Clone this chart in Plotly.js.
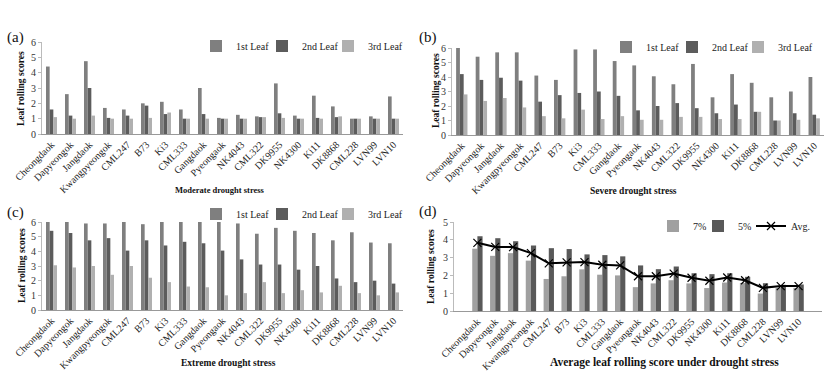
<!DOCTYPE html>
<html><head><meta charset="utf-8">
<script src="https://cdn.plot.ly/plotly-3.0.1.min.js"></script>
<style>html,body{margin:0;padding:0;background:#fff}#chart{width:838px;height:383px}</style>
</head><body><div id="chart"></div>
<script>
const categories = ["Cheongdaok","Dapyeongok","Jangdaok","Kwangpyeongok","CML247","B73","Ki3","CML333","Gangdaok","Pyeongaok","NK4043","CML322","DK9955","NK4300","Ki11","DK8868","CML228","LVN99","LVN10"];

// (a) Moderate drought stress
const modLeaf1 = [4.4,2.6,4.75,1.7,1.6,2.0,2.1,1.6,3.0,1.05,1.25,1.15,3.3,1.2,2.5,1.8,1.0,1.15,2.45];
const modLeaf2 = [1.6,1.2,3.0,1.05,1.2,1.85,1.3,1.0,1.3,1.0,1.0,1.1,1.35,1.0,1.05,1.1,1.0,1.0,1.0];
const modLeaf3 = [1.1,1.0,1.2,1.0,1.0,1.05,1.4,1.0,1.0,1.0,1.0,1.1,1.05,1.0,1.0,1.15,1.0,1.0,1.0];

// (b) Severe drought stress
const sevLeaf1 = [6.0,5.4,5.7,5.7,4.1,3.8,5.9,5.9,5.1,4.8,4.05,3.5,4.9,2.6,4.2,3.6,2.6,3.0,4.0];
const sevLeaf2 = [4.2,3.8,3.95,3.75,2.3,2.75,2.9,3.0,2.7,1.7,2.0,2.2,1.85,1.5,2.1,1.6,1.0,1.5,1.4];
const sevLeaf3 = [2.8,2.35,2.55,1.9,1.3,1.15,1.75,1.1,1.3,1.05,1.05,1.25,1.25,1.1,1.1,1.6,1.0,1.05,1.15];

// (c) Extreme drought stress
const extLeaf1 = [6.0,6.0,5.9,5.9,6.0,5.85,6.0,6.0,6.0,6.0,5.9,5.2,5.6,5.4,5.25,4.75,5.3,4.6,4.55];
const extLeaf2 = [5.4,5.25,4.75,4.9,4.05,4.75,4.4,4.65,4.55,4.05,3.45,3.1,3.1,2.75,3.0,2.15,1.9,2.0,1.8];
const extLeaf3 = [3.05,2.9,3.0,2.4,3.0,2.2,1.9,1.6,1.55,1.0,1.15,1.9,1.15,1.35,1.2,1.65,1.15,1.0,1.2];

// (d) Average leaf rolling score under drought stress
const avg7 = [3.5,3.1,3.25,2.83,1.8,1.95,2.34,2.04,2.0,1.34,1.55,1.73,1.55,1.29,1.6,1.57,0.98,1.3,1.3];
const avg5 = [4.2,4.09,3.92,3.68,3.53,3.48,3.18,3.14,3.07,2.56,2.35,2.5,2.12,2.07,2.12,1.92,1.56,1.47,1.49];
const avgAll = [3.83,3.6,3.59,3.25,2.68,2.73,2.75,2.6,2.56,1.95,1.95,2.1,1.87,1.7,1.88,1.73,1.3,1.4,1.4];

const leafNames = ["1st Leaf","2nd Leaf","3rd Leaf"];
const avgNames = ["7%","5%","Avg."];
const panelTitles = ["Moderate drought stress","Severe drought stress","Extreme drought stress","Average leaf rolling score under drought stress"];
const yTitle = "Leaf rolling scores";
const leafColors = ["#7f7f7f","#5c5c5c","#b0b0b0"];
const serif = "Liberation Serif, Times New Roman, serif";

const W = 838, H = 383;
const px = v => v / W, py = v => 1 - v / H;
const legId = n => n === 1 ? "legend" : "legend" + n;

const traces = [];
const leafSets = [[modLeaf1,modLeaf2,modLeaf3],[sevLeaf1,sevLeaf2,sevLeaf3],[extLeaf1,extLeaf2,extLeaf3]];
leafSets.forEach((set, p) => {
  set.forEach((vals, i) => {
    traces.push({type:"bar", x:categories, y:vals, name:leafNames[i],
      marker:{color:leafColors[i]}, xaxis: p===0?"x":"x"+(p+1), yaxis: p===0?"y":"y"+(p+1),
      legend: legId(p*3 + i + 1)});
  });
});
traces.push({type:"bar", x:categories, y:avg7, name:avgNames[0], marker:{color:"#a0a0a0"}, xaxis:"x4", yaxis:"y4", legend:legId(10)});
traces.push({type:"bar", x:categories, y:avg5, name:avgNames[1], marker:{color:"#595959"}, xaxis:"x4", yaxis:"y4", legend:legId(11)});
traces.push({type:"scatter", mode:"lines+markers", x:categories, y:avgAll, name:avgNames[2],
  line:{color:"#000", width:2}, marker:{symbol:"x-thin", size:8, color:"#000", line:{color:"#000", width:1.2}},
  xaxis:"x4", yaxis:"y4", legend:legId(12)});

function xa(dom, anchor){
  return {domain:dom, anchor:anchor, type:"category", tickangle:-45, showgrid:false, zeroline:false,
    showline:true, linecolor:"#999", linewidth:1, ticks:"", tickfont:{family:serif, size:10, color:"#222"},
    fixedrange:true};
}
function ya(dom, anchor, max){
  return {domain:dom, anchor:anchor, range:[0,max], dtick:1, showgrid:false, zeroline:false,
    showline:true, linecolor:"#bbb", linewidth:1, ticks:"outside", ticklen:3, tickcolor:"#bbb",
    tickfont:{family:serif, size:10, color:"#333"}, fixedrange:true};
}

// legend entry left positions (px) and centre y (px) per panel
const legendSpots = [
  [[196,46],[262,46],[328,46]],
  [[606,47],[672,47],[738,47]],
  [[196,214],[262,214],[328,214]],
  [[653,226],[698,226],[751,226]]
];
const layout = {
  width:W, height:H, margin:{l:0,r:0,t:0,b:0}, paper_bgcolor:"#fff", plot_bgcolor:"#fff",
  bargap:0.42, bargroupgap:0, barmode:"group", showlegend:true, hovermode:false,
  xaxis: xa([px(42), px(403)], "y"),
  yaxis: ya([py(134), py(42)], "x", 6),
  xaxis2: xa([px(452), px(824)], "y2"),
  yaxis2: ya([py(135), py(48)], "x2", 6),
  xaxis3: xa([px(42), px(403)], "y3"),
  yaxis3: ya([py(310), py(222)], "x3", 6),
  xaxis4: xa([px(454), px(822)], "y4"),
  yaxis4: ya([py(311), py(222)], "x4", 5)
};
legendSpots.flat().forEach((s, k) => {
  layout[legId(k+1)] = {orientation:"h", x:px(s[0]), xanchor:"left", y:py(s[1]), yanchor:"middle",
    bgcolor:"rgba(0,0,0,0)", borderwidth:0, font:{family:serif, size:10, color:"#222"}, itemwidth:30};
});

const panelLabels = [["(a)",15,37],["(b)",428,37],["(c)",15,212],["(d)",428,211]].map(a => ({
  text:a[0], x:px(a[1]), y:py(a[2]), xref:"paper", yref:"paper", showarrow:false, xanchor:"center", yanchor:"middle",
  font:{family:serif, size:15, color:"#111"}}));

const titleSpecs = [[220,190,8.5],[633,191,9.5],[228,363,9.5],[664,362,11.5]];
const xTitles = panelTitles.map((t, i) => ({text:t, x:px(titleSpecs[i][0]), y:py(titleSpecs[i][1]),
  xref:"paper", yref:"paper", showarrow:false, xanchor:"center", yanchor:"middle",
  font:{family:serif, size:titleSpecs[i][2], color:"#111", weight:"bold"}}));

const ySpecs = [[21,89],[436,91],[22,266],[431,266]];
const yTitles = ySpecs.map(s => ({text:yTitle, x:px(s[0]), y:py(s[1]), textangle:-90,
  xref:"paper", yref:"paper", showarrow:false, xanchor:"center", yanchor:"middle",
  font:{family:serif, size:9.5, color:"#111", weight:"bold"}}));

layout.annotations = panelLabels.concat(xTitles, yTitles);

Plotly.newPlot("chart", traces, layout, {displayModeBar:false, staticPlot:true});
</script></body></html>
